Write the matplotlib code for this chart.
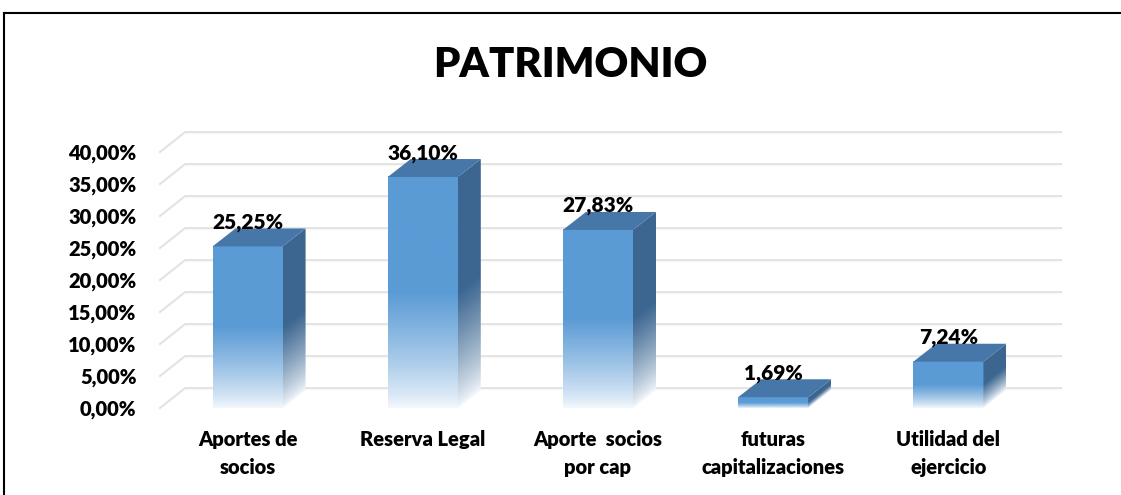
"""PATRIMONIO: 3D-style column chart with faded bar bottoms."""

import matplotlib

matplotlib.use("Agg")
import matplotlib.pyplot as plt
import numpy as np
from matplotlib.colors import to_rgb
from matplotlib.lines import Line2D
from matplotlib.patches import Polygon

plt.rcParams["font.family"] = ["Lato", "DejaVu Sans"]
WEIGHT = "heavy"

categories = [
    "Aportes de\nsocios",
    "Reserva Legal",
    "Aporte  socios\npor cap",
    "futuras\ncapitalizaciones",
    "Utilidad del\nejercicio",
]
values = [25.25, 36.10, 27.83, 1.69, 7.24]
value_labels = ["25,25%", "36,10%", "27,83%", "1,69%", "7,24%"]
y_ticks = [0, 5, 10, 15, 20, 25, 30, 35, 40]
y_tick_labels = ["0,00%", "5,00%", "10,00%", "15,00%", "20,00%",
                 "25,00%", "30,00%", "35,00%", "40,00%"]

FRONT = np.array(to_rgb("#5b9bd5"))
SIDE = np.array(to_rgb("#3c6690"))
TOP = np.array(to_rgb("#4677a8"))
FADE = np.array(to_rgb("#f5f9fd"))

BAR_W = 0.40
BAR_DX, BAR_DY = 0.131, 2.8      # bar depth in data units
WALL_DX, WALL_DY = 0.143, 3.1    # back wall offset


def fade(frac):
    """Blend weight towards the solid colour given height fraction."""
    t = np.clip(frac / 0.5, 0, 1)
    return t ** 0.8


def shade(color, weight):
    w = weight[..., None]
    return FADE * (1 - w) + color * w


fig = plt.figure(figsize=(11.21, 4.95), dpi=100)
ax = fig.add_axes([160 / 1121, 87 / 495, 876 / 1121, 256 / 495])
ax.set_xlim(-0.5, len(values) - 0.5)
ax.set_ylim(0, 40)

# back wall gridlines with the slanted side-wall segment
x_right = len(values) - 0.5
for t in y_ticks:
    ax.plot([-0.5, -0.5 + WALL_DX, x_right + WALL_DX],
            [t, t + WALL_DY, t + WALL_DY],
            color="#e4e4e4", lw=1.6, clip_on=False, zorder=1)

for i, v in enumerate(values):
    x0, x1 = i - BAR_W / 2, i + BAR_W / 2

    # front face: vertical gradient
    ys = np.linspace(0, 1, 200)[::-1]
    img = shade(FRONT, fade(ys))[:, None, :].repeat(2, axis=1)
    ax.imshow(img, extent=[x0, x1, 0, v], aspect="auto",
              interpolation="bilinear", zorder=3, clip_on=False)

    # side face: gradient following the slanted bottom edge
    nx, ny = 40, 200
    gx = np.linspace(0, 1, nx)
    gy = np.linspace(v + BAR_DY, 0, ny)
    GX, GY = np.meshgrid(gx, gy)
    h = (GY - BAR_DY * GX) / v
    side_img = shade(SIDE, fade(h))
    side_poly = Polygon([(x1, 0), (x1 + BAR_DX, BAR_DY),
                         (x1 + BAR_DX, v + BAR_DY), (x1, v)],
                        closed=True, transform=ax.transData)
    im = ax.imshow(side_img, extent=[x1, x1 + BAR_DX, 0, v + BAR_DY],
                   aspect="auto", interpolation="bilinear", zorder=3)
    im.set_clip_path(side_poly)

    # top face
    ax.add_patch(Polygon([(x0, v), (x1, v), (x1 + BAR_DX, v + BAR_DY),
                          (x0 + BAR_DX, v + BAR_DY)], closed=True,
                         facecolor=TOP, edgecolor="none", zorder=4,
                         clip_on=False))

    ax.text(i, v + BAR_DY, value_labels[i], ha="center", va="baseline",
            fontsize=15, fontweight=WEIGHT, color="black", zorder=5)

ax.set_xlim(-0.5, len(values) - 0.5)
ax.set_ylim(0, 40)
ax.set_xticks(range(len(values)), categories, fontsize=14.5,
              fontweight=WEIGHT, linespacing=1.55)
ax.set_yticks(y_ticks, y_tick_labels, fontsize=14.5, fontweight=WEIGHT)
ax.tick_params(axis="y", length=0, pad=17)
ax.tick_params(axis="x", length=0, pad=16)
for s in ax.spines.values():
    s.set_visible(False)
ax.set_facecolor("none")

fig.text(0.509, 0.869, "PATRIMONIO", ha="center", va="center",
         fontsize=30, fontweight=WEIGHT)

# outer frame (left and top edges visible in the crop)
fig.add_artist(Line2D([4 / 1121, 4 / 1121], [0, 1 - 13 / 495],
                      transform=fig.transFigure, color="black", lw=1.5))
fig.add_artist(Line2D([4 / 1121, 1], [1 - 13 / 495, 1 - 13 / 495],
                      transform=fig.transFigure, color="black", lw=1.5))

fig.savefig("out.png", dpi=100, facecolor="white")
